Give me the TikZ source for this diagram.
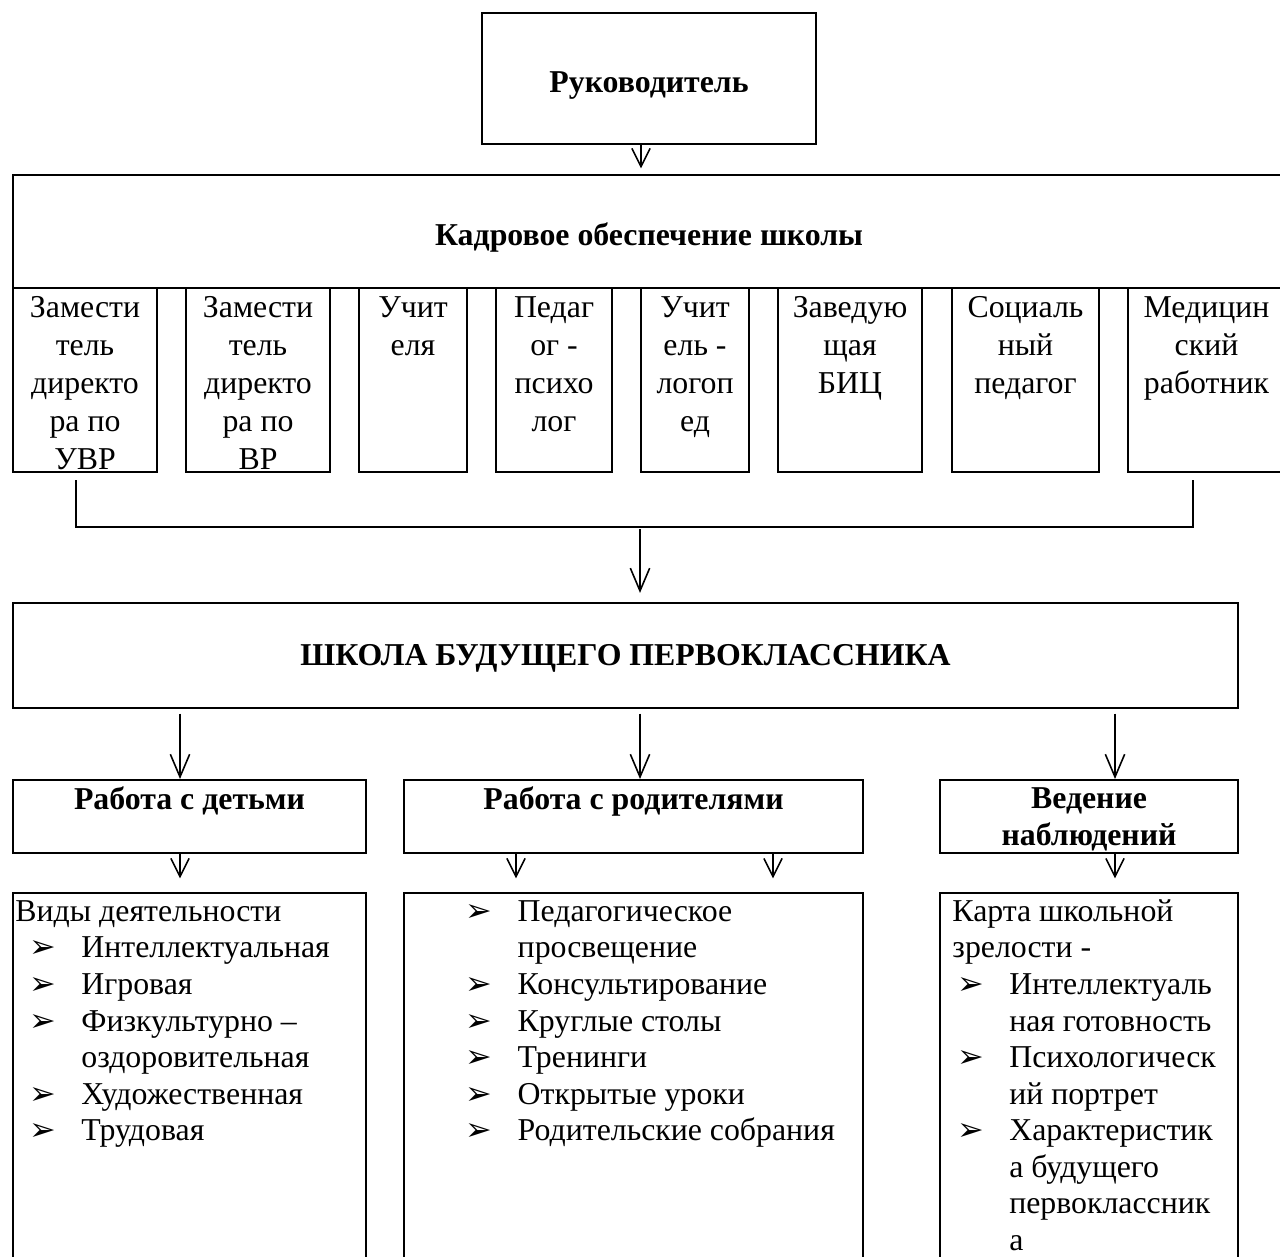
\documentclass[tikz,border=0pt]{standalone}
\usepackage{fontspec}
\setmainfont{Liberation Serif}
\newfontfamily\dejavu{DejaVu Sans}
\usetikzlibrary{arrows.meta}

\newcommand{\px}{0.44pt}
\newcommand{\bul}{{\dejavu\fontsize{14pt}{14pt}\selectfont ➢}}
\newcommand{\itm}[2][0pt]{\hspace*{#1}\makebox[23pt][l]{\bul}#2}
\newcommand{\cont}[2][0pt]{\hspace*{#1}\hspace*{23pt}#2}

\tikzset{
  box/.style={draw, line width=0.9pt, inner sep=0pt, anchor=north west},
  txt/.style={inner sep=0pt, font=\fontsize{14pt}{16.1pt}\selectfont},
  sub/.style={inner sep=0pt, align=center, anchor=north, font=\fontsize{14pt}{16.7pt}\selectfont},
  ttl/.style={inner sep=0pt, align=center, font=\fontsize{14pt}{16pt}\selectfont\bfseries},
  arr/.style={line width=0.7pt, -{Straight Barb[length=8pt,width=8pt]}},
  longarr/.style={line width=0.7pt, -{Straight Barb[length=10pt,width=8.5pt]}},
  link/.style={line width=0.7pt}
}

\begin{document}
\begin{tikzpicture}[x=0.44pt, y=-0.44pt]
\useasboundingbox (0,0) rectangle (1280,1256);

\node[box, minimum width=334*\px, minimum height=131*\px] (ruk) at (481,12) {};
\node[ttl] (rukt) at ([yshift=-3pt]ruk.center) {Руководитель};
\node[box, minimum width=1272*\px, minimum height=113*\px] (kadr) at (12,174) {};
\node[ttl] (kadrt) at ([yshift=-2.6pt]kadr.center) {Кадровое обеспечение школы};

\node[box, minimum width=144*\px, minimum height=184*\px] (s1) at (12,287) {};
\node[box, minimum width=144*\px, minimum height=184*\px] (s2) at (185,287) {};
\node[box, minimum width=108*\px, minimum height=184*\px] (s3) at (358,287) {};
\node[box, minimum width=116*\px, minimum height=184*\px] (s4) at (495,287) {};
\node[box, minimum width=108*\px, minimum height=184*\px] (s5) at (640,287) {};
\node[box, minimum width=144*\px, minimum height=184*\px] (s6) at (777,287) {};
\node[box, minimum width=147*\px, minimum height=184*\px] (s7) at (951,287) {};
\node[box, minimum width=157*\px, minimum height=184*\px] (s8) at (1127,287) {};

\node[sub] (t1) at ([yshift=-4pt]s1.north) {Замести\\тель\\директо\\ра по\\УВР};
\node[sub] (t2) at ([yshift=-4pt]s2.north) {Замести\\тель\\директо\\ра по\\ВР};
\node[sub] (t3) at ([yshift=-4pt]s3.north) {Учит\\еля};
\node[sub] (t4) at ([yshift=-4pt]s4.north) {Педаг\\ог -\\психо\\лог};
\node[sub] (t5) at ([yshift=-4pt]s5.north) {Учит\\ель -\\логоп\\ед};
\node[sub] (t6) at ([yshift=-4pt]s6.north) {Заведую\\щая\\БИЦ};
\node[sub] (t7) at ([yshift=-4pt]s7.north) {Социаль\\ный\\педагог};
\node[sub] (t8) at ([yshift=-4pt]s8.north) {Медицин\\ский\\работник};

\node[box, minimum width=1225*\px, minimum height=105*\px] (shk) at (12,602) {};
\node[ttl] (shkt) at ([yshift=-1.3pt]shk.center) {ШКОЛА БУДУЩЕГО ПЕРВОКЛАССНИКА};

\node[box, minimum width=353*\px, minimum height=73*\px] (ra) at (12,779) {};
\node[box, minimum width=459*\px, minimum height=73*\px] (rb) at (403,779) {};
\node[box, minimum width=298*\px, minimum height=73*\px] (rc) at (939,779) {};
\node[ttl, anchor=north] (ta) at ([yshift=-3.3pt]ra.north) {Работа с детьми};
\node[ttl, anchor=north] (tb) at ([yshift=-3.3pt]rb.north) {Работа с родителями};
\node[ttl, anchor=north] (tc) at ([yshift=-3.8pt]rc.north) {Ведение\\наблюдений};

\node[box, minimum width=353*\px, minimum height=400*\px] (ba) at (12,892) {};
\node[box, minimum width=459*\px, minimum height=400*\px] (bb) at (403,892) {};
\node[box, minimum width=298*\px, minimum height=400*\px] (bc) at (939,892) {};

\node[txt, align=left, anchor=north west] (la) at (15,900) {Виды деятельности\\
\itm[6pt]{Интеллектуальная}\\
\itm[6pt]{Игровая}\\
\itm[6pt]{Физкультурно –}\\
\cont[6pt]{оздоровительная}\\
\itm[6pt]{Художественная}\\
\itm[6pt]{Трудовая}};
\node[txt, align=left, anchor=north west] (lb) at (465,900) {\itm{Педагогическое}\\
\cont{просвещение}\\
\itm{Консультирование}\\
\itm{Круглые столы}\\
\itm{Тренинги}\\
\itm{Открытые уроки}\\
\itm{Родительские собрания}};
\node[txt, align=left, anchor=north west] (lc) at (952,899) {Карта школьной\\
зрелости -\\
\itm[2pt]{Интеллектуаль}\\
\cont[2pt]{ная готовность}\\
\itm[2pt]{Психологическ}\\
\cont[2pt]{ий портрет}\\
\itm[2pt]{Характеристик}\\
\cont[2pt]{а будущего}\\
\cont[2pt]{первоклассник}\\
\cont[2pt]{а}};

\draw[arr, shorten >=2.5pt] (ruk.south -| 641,0) -- (kadr.north -| 641,0);

\coordinate (bl) at (76,480);
\coordinate (br) at (1193,480);
\coordinate (bm) at (640,527);
\draw[link] (bl) |- (bm) -| (br);
\draw[longarr, shorten <=1pt, shorten >=4pt] (bm) -- (bm |- shk.north);

\draw[longarr, shorten <=2pt] (shk.south -| 180,0) -- (ra.north -| 180,0);
\draw[longarr, shorten <=2pt] (shk.south -| 640,0) -- (rb.north -| 640,0);
\draw[longarr, shorten <=2pt] (shk.south -| 1115,0) -- (rc.north -| 1115,0);

\draw[arr, shorten >=6pt] (ra.south -| 180,0) -- (ba.north -| 180,0);
\draw[arr, shorten >=6pt] (rb.south -| 516,0) -- (bb.north -| 516,0);
\draw[arr, shorten >=6pt] (rb.south -| 773,0) -- (bb.north -| 773,0);
\draw[arr, shorten >=6pt] (rc.south -| 1115,0) -- (bc.north -| 1115,0);

\end{tikzpicture}
\end{document}
